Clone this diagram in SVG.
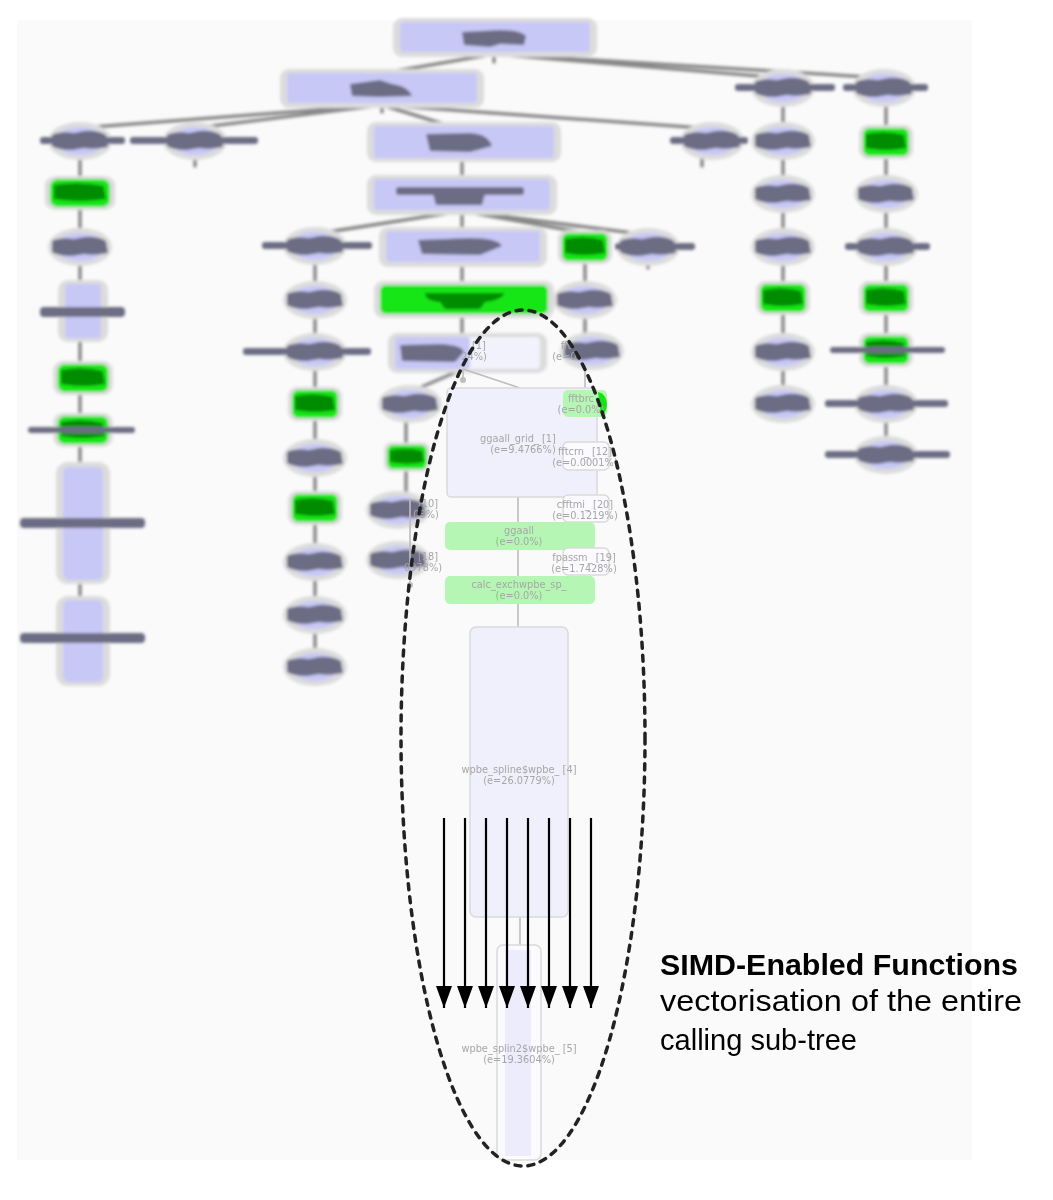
<svg xmlns="http://www.w3.org/2000/svg" width="1053" height="1200" viewBox="0 0 1053 1200">
<defs>
<style>
.lav{fill:#c8c8f7}
.halo{fill:#dcdcdc}
.smg{fill:#6c6c84}
.grn{fill:#12e612}
.dg{fill:#008c00}
.e{stroke:#888;stroke-width:3.5;fill:none;stroke-linecap:round}
.fe{stroke:#bdbdbd;stroke-width:1.6;fill:none}
.ft{font-family:"DejaVu Sans",sans-serif;font-size:9.8px;fill:#a6a6a6;text-anchor:middle}
.fbox{fill:#f0f0fc;stroke:#dadada;stroke-width:1.5}
.wbox{fill:#fafaff;stroke:#dadada;stroke-width:1.5}
.gbox{fill:#b5f6b5}
.arr{stroke:#000;stroke-width:2.2;fill:none}
.big{font-family:"Liberation Sans",Arial,sans-serif;fill:#000}
</style>
<filter id="bl" x="-10%" y="-10%" width="120%" height="120%"><feGaussianBlur stdDeviation="1.5"/></filter>
<marker id="ah" viewBox="0 0 22 16" refX="22" refY="8" markerWidth="22" markerHeight="16" markerUnits="userSpaceOnUse" orient="auto">
<path d="M0,0 L22,8 L0,16 Z" fill="#000"/>
</marker>
<g id="sm">
<ellipse rx="32" ry="19" class="halo"/>
<ellipse rx="24" ry="14" class="lav"/>
<path d="M-28,-6 Q-20,-10 -6,-8 L4,-10 Q18,-11 26,-6 L28,6 Q14,9 4,7 L-8,9 Q-22,9 -28,5 Z" class="smg"/>
</g>
<g id="gn">
<rect x="-27" y="-17" width="54" height="34" rx="9" class="halo"/>
<rect x="-23" y="-14" width="46" height="28" rx="7" class="grn"/>
<path d="M-20,-8 Q0,-12 18,-7 L20,6 Q0,10 -20,6 Z" class="dg"/>
</g>
</defs>
<rect width="1053" height="1200" fill="#fff"/>
<rect x="17" y="20" width="955" height="1140" fill="#fafafa"/>

<g id="blurred-graph" filter="url(#bl)">
<g id="connectors">
<path class="e" d="M494,54 L384,73 M494,54 L782,78 M494,54 L884,78 M494,54 V62"/>
<path class="e" d="M382,105 L80,128 M382,105 L195,128 M382,105 L450,126 M382,105 L702,128 M382,105 V112"/>
<path class="e" d="M195,154 V166 M702,154 V166 M80,154 V600 M783,100 V420 M886,100 V470"/>
<path class="e" d="M462,158 V180 M462,211 L315,234 M462,211 V231 M462,211 L585,233 M462,211 L648,235 M648,258 V268"/>
<path class="e" d="M462,262 V285 M462,314 V337 M315,258 V680 M585,262 V340 M406,415 V500 M463,369 L410,392"/>
</g>
<g id="n-root"><rect x="393" y="18" width="204" height="39" rx="9" class="halo"/><rect x="400" y="22" width="190" height="30" rx="4" class="lav"/><path d="M462,32 L500,30 Q520,30 526,36 L524,45 L500,44 L490,47 L464,45 Z" class="smg"/></g>
<g id="n-2"><rect x="280" y="69" width="204" height="39" rx="9" class="halo"/><rect x="287" y="73" width="190" height="30" rx="4" class="lav"/><path d="M350,84 L380,80 L392,84 Q408,86 412,96 L380,97 L352,96 Z" class="smg"/></g>
<g id="n-r1a"><use href="#sm" x="783" y="88"/><rect x="735" y="84" width="100" height="7" rx="3" class="smg"/></g>
<g id="n-r1b"><use href="#sm" x="884" y="88"/><rect x="843" y="84" width="85" height="7" rx="3" class="smg"/></g>
<g id="n-3a"><use href="#sm" x="80" y="141"/><rect x="40" y="137" width="85" height="7" rx="3" class="smg"/></g>
<g id="n-3b"><use href="#sm" x="195" y="141"/><rect x="130" y="137" width="128" height="7" rx="3" class="smg"/></g>
<g id="n-3c"><rect x="367" y="122" width="194" height="40" rx="9" class="halo"/><rect x="374" y="126" width="180" height="32" rx="4" class="lav"/><path d="M426,134 L470,133 Q488,134 492,146 L470,152 L430,151 Z" class="smg"/></g>
<g id="n-3d"><use href="#sm" x="712" y="141"/><rect x="670" y="137" width="78" height="7" rx="3" class="smg"/></g>
<g id="n-3e"><use href="#sm" x="783" y="141"/></g>
<g id="n-3f"><use href="#gn" x="886" y="142"/></g>
<g id="n-4a"><use href="#gn" transform="translate(80,193) scale(1.3,1)"/></g>
<g id="n-4b"><rect x="367" y="175" width="190" height="40" rx="9" class="halo"/><rect x="374" y="179" width="176" height="31" rx="4" class="lav"/><rect x="396" y="187" width="128" height="8" rx="3" class="smg"/><path d="M432,190 L486,190 L482,205 L436,205 Z" class="smg"/></g>
<g id="n-4c"><use href="#sm" x="783" y="194"/></g>
<g id="n-4d"><use href="#sm" x="886" y="194"/></g>
<g id="n-5a"><use href="#sm" x="80" y="247"/></g>
<g id="n-5b"><use href="#sm" x="315" y="246"/><rect x="262" y="242" width="110" height="7" rx="3" class="smg"/></g>
<g id="n-5c"><rect x="379" y="227" width="168" height="40" rx="9" class="halo"/><rect x="386" y="231" width="154" height="31" rx="4" class="lav"/><path d="M418,240 L470,238 Q498,238 502,246 L480,255 L422,254 Z" class="smg"/></g>
<g id="n-5d"><use href="#gn" x="585" y="247"/></g>
<g id="n-5e"><use href="#sm" x="648" y="247"/><rect x="615" y="243" width="80" height="7" rx="3" class="smg"/></g>
<g id="n-5f"><use href="#sm" x="783" y="247"/></g>
<g id="n-5g"><use href="#sm" x="886" y="247"/><rect x="845" y="243" width="85" height="7" rx="3" class="smg"/></g>
<g id="n-6a"><rect x="58" y="280" width="50" height="62" rx="10" class="halo"/><rect x="65" y="284" width="36" height="54" rx="4" class="lav"/><rect x="40" y="307" width="85" height="10" rx="4" class="smg"/></g>
<g id="n-6b"><use href="#sm" x="315" y="300"/></g>
<g id="n-6c"><rect x="374" y="281" width="180" height="37" rx="9" class="halo"/><rect x="380" y="285" width="168" height="29" rx="6" class="grn"/><path d="M425,293 L505,293 Q500,301 485,302 L480,309 L445,309 L440,302 Q425,301 425,293 Z" class="dg"/></g>
<g id="n-6d"><use href="#sm" x="585" y="300"/></g>
<g id="n-6e"><use href="#gn" x="783" y="298"/></g>
<g id="n-6f"><use href="#gn" x="886" y="298"/></g>
<g id="n-7a"><use href="#sm" x="315" y="352"/><rect x="243" y="348" width="128" height="7" rx="3" class="smg"/></g>
<g id="n-7b"><rect x="388" y="333" width="159" height="40" rx="9" class="halo"/><rect x="395" y="337" width="145" height="32" rx="4" fill="#f2f2fc"/><rect x="395" y="337" width="75" height="32" rx="4" class="lav"/><path d="M400,345 L440,344 Q462,345 464,352 L455,362 L402,361 Z" class="smg"/></g>
<g id="n-7c"><use href="#sm" x="592" y="351"/></g>
<g id="n-7d"><use href="#sm" x="783" y="352"/></g>
<g id="n-7e"><use href="#gn" x="886" y="350"/><rect x="830" y="347" width="115" height="6" rx="3" class="smg"/></g>
<g id="n-8a"><use href="#gn" transform="translate(83,378) scale(1.1,1)"/></g>
<g id="n-8b"><use href="#gn" x="315" y="404"/></g>
<g id="n-8c"><use href="#sm" x="410" y="404"/></g>
<g id="n-8d"><use href="#sm" x="783" y="404"/></g>
<g id="n-8e"><use href="#sm" x="886" y="404"/><rect x="825" y="400" width="123" height="7" rx="3" class="smg"/></g>
<g id="n-9a"><use href="#gn" transform="translate(83,430) scale(1.1,1)"/><rect x="28" y="427" width="107" height="6" rx="3" class="smg"/></g>
<g id="n-10a"><use href="#sm" x="315" y="458"/></g>
<g id="n-10b"><use href="#gn" transform="translate(407,457) scale(0.85)"/></g>
<g id="n-10c"><use href="#sm" x="886" y="455"/><rect x="825" y="451" width="125" height="7" rx="3" class="smg"/></g>
<g id="n-11a"><use href="#sm" x="398" y="510"/></g>
<g id="n-11b"><use href="#gn" x="315" y="508"/></g>
<g id="n-12a"><use href="#sm" x="398" y="560"/></g>
<g id="n-12b"><use href="#sm" x="315" y="562"/></g>
<g id="n-13"><use href="#sm" x="315" y="615"/></g>
<g id="n-14"><use href="#sm" x="315" y="667"/></g>
<g id="n-l1"><rect x="56" y="462" width="54" height="122" rx="12" class="halo"/><rect x="63" y="467" width="40" height="113" rx="6" class="lav"/><rect x="20" y="518" width="125" height="10" rx="4" class="smg"/></g>
<g id="n-l2"><rect x="56" y="596" width="54" height="90" rx="12" class="halo"/><rect x="63" y="600" width="40" height="82" rx="6" class="lav"/><rect x="20" y="633" width="125" height="10" rx="4" class="smg"/></g>
</g>

<g id="faded-connectors">
<path class="fe" d="M463,369 L520,388 M518,497 V522 M518,550 V576 M518,604 V627 M520,917 V945 M585,365 V548 M410,500 V585 M463,369 V380"/>
<path d="M585,472 l4,8 l-4,8 l-4,-8 Z M585,525 l4,8 l-4,8 l-4,-8 Z" fill="#bdbdbd"/>
<circle cx="410" cy="585" r="3" fill="#bdbdbd"/>
<circle cx="463" cy="380" r="3" fill="#bdbdbd"/>
</g>

<g id="n-ggaall-grid"><rect x="447" y="388" width="150" height="109" rx="4" class="fbox"/><text class="ft" x="518" y="442">ggaall_grid_ [1]</text><text class="ft" x="523" y="453">(e=9.4766%)</text></g>
<g id="n-fftbrc"><rect x="563" y="390" width="44" height="27" rx="5" class="gbox"/><path d="M598,392 Q607,394 607,405 Q606,414 601,416 Z" fill="#12e612"/><text class="ft" x="581" y="402">fftbrc</text><text class="ft" x="581" y="413">(e=0.0%)</text></g>
<g id="n-fftcrn"><rect x="563" y="442" width="46" height="28" rx="5" class="wbox"/><text class="ft" x="585" y="455">fftcrn_ [12]</text><text class="ft" x="585" y="466">(e=0.0001%)</text></g>
<g id="n-cfftmi"><rect x="563" y="495" width="46" height="27" rx="5" class="wbox"/><text class="ft" x="585" y="508">cfftmi_ [20]</text><text class="ft" x="585" y="519">(e=0.1219%)</text></g>
<g id="n-ggaall"><rect x="445" y="522" width="150" height="28" rx="5" class="gbox"/><text class="ft" x="519" y="534">ggaall</text><text class="ft" x="519" y="545">(e=0.0%)</text></g>
<g id="n-fpassm"><rect x="563" y="548" width="46" height="27" rx="5" class="wbox"/><text class="ft" x="584" y="561">fpassm_ [19]</text><text class="ft" x="584" y="572">(e=1.7428%)</text></g>
<g id="n-calc"><rect x="445" y="576" width="150" height="28" rx="5" class="gbox"/><text class="ft" x="519" y="588">calc_exchwpbe_sp_</text><text class="ft" x="519" y="599">(e=0.0%)</text></g>
<g id="n-wpbe4"><rect x="470" y="627" width="98" height="290" rx="6" class="fbox"/><text class="ft" x="519" y="773">wpbe_spline$wpbe_ [4]</text><text class="ft" x="519" y="784">(e=26.0779%)</text></g>
<g id="n-wpbe5"><rect x="497" y="945" width="44" height="215" rx="6" class="wbox"/><rect x="505" y="950" width="26" height="206" fill="#ececfc"/><text class="ft" x="519" y="1052">wpbe_splin2$wpbe_ [5]</text><text class="ft" x="519" y="1063">(e=19.3604%)</text></g>
<g id="partial-texts">
<text class="ft" x="479" y="349">[1]</text><text class="ft" x="474" y="360">24%)</text>
<text class="ft" x="566" y="349">fft</text><text class="ft" x="566" y="360">(e=0.</text>
<text class="ft" x="428" y="507">[10]</text><text class="ft" x="426" y="518">03%)</text>
<text class="ft" x="428" y="560">[18]</text><text class="ft" x="423" y="571">0978%)</text>
</g>

<g id="arrows">
<line class="arr" marker-end="url(#ah)" x1="444" y1="818" x2="444" y2="1008"/>
<line class="arr" marker-end="url(#ah)" x1="465" y1="818" x2="465" y2="1008"/>
<line class="arr" marker-end="url(#ah)" x1="486" y1="818" x2="486" y2="1008"/>
<line class="arr" marker-end="url(#ah)" x1="507" y1="818" x2="507" y2="1008"/>
<line class="arr" marker-end="url(#ah)" x1="528" y1="818" x2="528" y2="1008"/>
<line class="arr" marker-end="url(#ah)" x1="549" y1="818" x2="549" y2="1008"/>
<line class="arr" marker-end="url(#ah)" x1="570" y1="818" x2="570" y2="1008"/>
<line class="arr" marker-end="url(#ah)" x1="591" y1="818" x2="591" y2="1008"/>
</g>

<ellipse id="simd-region" cx="523" cy="738" rx="122" ry="428" fill="none" stroke="#222" stroke-width="3.5" stroke-dasharray="6 7" stroke-linecap="round"/>

<g id="caption">
<text class="big" x="660" y="975" font-size="29" font-weight="bold" textLength="358" lengthAdjust="spacingAndGlyphs">SIMD-Enabled Functions</text>
<text class="big" x="660" y="1011" font-size="29" textLength="362" lengthAdjust="spacingAndGlyphs">vectorisation of the entire</text>
<text class="big" x="660" y="1050" font-size="29" textLength="197" lengthAdjust="spacingAndGlyphs">calling sub-tree</text>
</g>
</svg>
